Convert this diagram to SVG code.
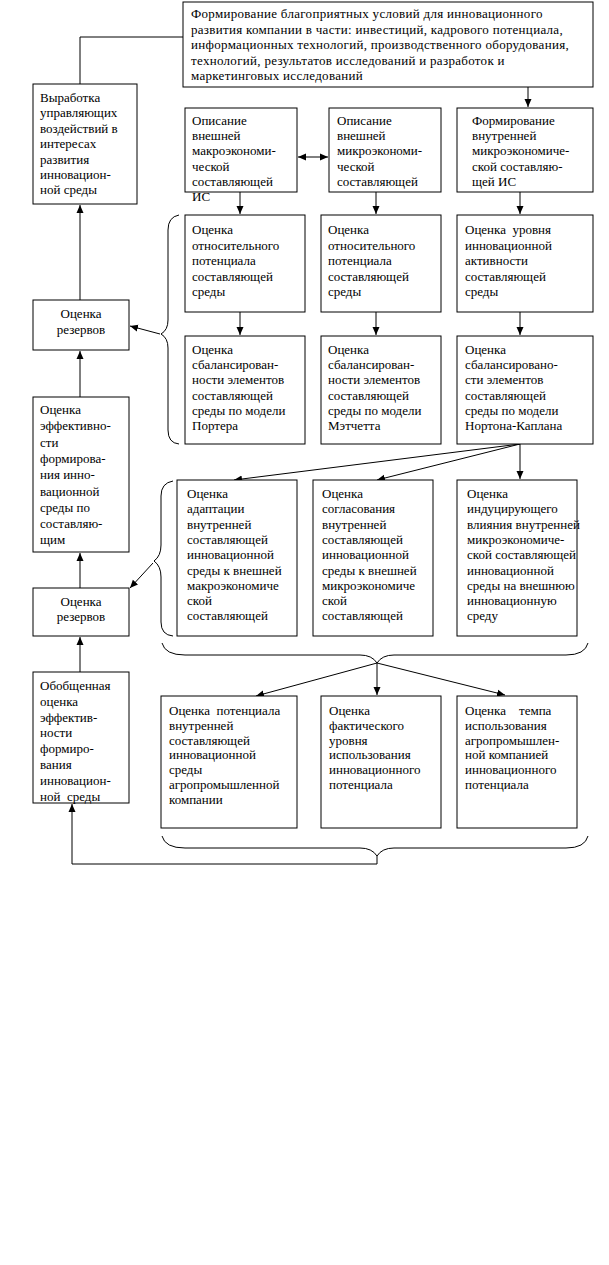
<svg xmlns="http://www.w3.org/2000/svg" width="609" height="1265" viewBox="0 0 609 1265">
<style>
rect.b{fill:#fff;stroke:#000;stroke-width:1}
text{font-family:"Liberation Serif","Times New Roman",serif;font-size:13px;fill:#000}
.c{text-anchor:middle}
.w{letter-spacing:0.3px}
.l{fill:none;stroke:#000;stroke-width:1}
</style>
<defs>
<marker id="ah" markerUnits="userSpaceOnUse" markerWidth="8" markerHeight="8" viewBox="0 0 8 8" refX="8" refY="4" orient="auto"><path d="M0,0.5 L8,4 L0,7.5 Z" fill="#000"/></marker>
<marker id="as" markerUnits="userSpaceOnUse" markerWidth="8" markerHeight="8" viewBox="0 0 8 8" refX="0" refY="4" orient="auto"><path d="M8,0.5 L0,4 L8,7.5 Z" fill="#000"/></marker>
</defs>
<rect width="609" height="1265" fill="#fff"/>

<g id="connectors">
<path class="l" d="M80,84 V37 H183"/>
<path class="l" d="M528,87 V107" marker-end="url(#ah)"/>
<path class="l" d="M298,157 H328" marker-start="url(#as)" marker-end="url(#ah)"/>
<path class="l" d="M240,192 V214" marker-end="url(#ah)"/>
<path class="l" d="M376,192 V214" marker-end="url(#ah)"/>
<path class="l" d="M520,192 V214" marker-end="url(#ah)"/>
<path class="l" d="M240,312 V335" marker-end="url(#ah)"/>
<path class="l" d="M376,312 V335" marker-end="url(#ah)"/>
<path class="l" d="M520,312 V335" marker-end="url(#ah)"/>
<path class="l" d="M520,444 L234,480" marker-end="url(#ah)"/>
<path class="l" d="M520,444 L377,480" marker-end="url(#ah)"/>
<path class="l" d="M520,444 V479" marker-end="url(#ah)"/>
<path class="l" d="M80,300 V205" marker-end="url(#ah)"/>
<path class="l" d="M80,397 V351" marker-end="url(#ah)"/>
<path class="l" d="M80,588 V553" marker-end="url(#ah)"/>
<path class="l" d="M80,672 V637" marker-end="url(#ah)"/>
<path class="l" d="M160,334 L130,326" marker-end="url(#ah)"/>
<path class="l" d="M153,563 L130,588" marker-end="url(#ah)"/>
<path class="l" d="M377,663 L256,696" marker-end="url(#ah)"/>
<path class="l" d="M377,663 V695" marker-end="url(#ah)"/>
<path class="l" d="M377,663 L505,695" marker-end="url(#ah)"/>
<path class="l" d="M377,856 V864 H72 V804" marker-end="url(#ah)"/>
<path class="l" d="M179,215 Q168,217 168,230 L168,320 Q168,330 161,334 Q168,338 168,348 L168,430 Q168,443 179,444"/>
<path class="l" d="M173,481 Q161,483 161,496 L161,545 Q161,556 154,561 Q161,566 161,577 L161,622 Q161,635 173,636"/>
<path class="l" d="M162,643 Q165,655 185,655 L360,655 Q372,655 377,663 Q382,655 394,655 L566,655 Q585,655 588,643"/>
<path class="l" d="M162,836 Q165,848 185,848 L360,848 Q372,848 377,856 Q382,848 394,848 L566,848 Q585,848 588,836"/>
</g>

<g id="top">
<rect class="b" x="183" y="2" width="410" height="85"/>
<text class="w" x="191" y="18">Формирование благоприятных условий для инновационного</text>
<text class="w" x="191" y="33.5">развития компании в части: инвестиций, кадрового потенциала,</text>
<text class="w" x="191" y="49">информационных технологий, производственного оборудования,</text>
<text class="w" x="191" y="64.5">технологий, результатов исследований и разработок и</text>
<text class="w" x="191" y="80">маркетинговых исследований</text>
</g>

<g id="vyrabotka">
<rect class="b" x="33" y="84" width="104" height="120"/>
<text x="40" y="102">Выработка</text>
<text x="40" y="117.4">управляющих</text>
<text x="40" y="132.8">воздействий в</text>
<text x="40" y="148.2">интересах</text>
<text x="40" y="163.6">развития</text>
<text x="40" y="179">инновацион-</text>
<text x="40" y="194.4">ной среды</text>
</g>

<g id="r1a">
<rect class="b" x="185" y="108" width="112" height="84"/>
<text x="192" y="125">Описание</text>
<text x="192" y="140.2">внешней</text>
<text x="192" y="155.4">макроэкономи-</text>
<text x="192" y="170.6">ческой</text>
<text x="192" y="185.8">составляющей</text>
<text x="192" y="201">ИС</text>
</g>
<g id="r1b">
<rect class="b" x="329" y="108" width="112" height="84"/>
<text x="337" y="125">Описание</text>
<text x="337" y="140.2">внешней</text>
<text x="337" y="155.4">микроэкономи-</text>
<text x="337" y="170.6">ческой</text>
<text x="337" y="185.8">составляющей</text>
</g>
<g id="r1c">
<rect class="b" x="457" y="108" width="136" height="84"/>
<text x="472" y="125">Формирование</text>
<text x="472" y="140.2">внутренней</text>
<text x="472" y="155.4">микроэкономиче-</text>
<text x="472" y="170.6">ской составляю-</text>
<text x="472" y="185.8">щей ИС</text>
</g>

<g id="r2a">
<rect class="b" x="185" y="215" width="120" height="97"/>
<text x="192" y="234">Оценка</text>
<text x="192" y="249.5">относительного</text>
<text x="192" y="265">потенциала</text>
<text x="192" y="280.5">составляющей</text>
<text x="192" y="296">среды</text>
</g>
<g id="r2b">
<rect class="b" x="321" y="215" width="120" height="97"/>
<text x="328" y="234">Оценка</text>
<text x="328" y="249.5">относительного</text>
<text x="328" y="265">потенциала</text>
<text x="328" y="280.5">составляющей</text>
<text x="328" y="296">среды</text>
</g>
<g id="r2c">
<rect class="b" x="457" y="215" width="136" height="97"/>
<text x="465" y="234" xml:space="preserve">Оценка  уровня</text>
<text x="465" y="249.5">инновационной</text>
<text x="465" y="265">активности</text>
<text x="465" y="280.5">составляющей</text>
<text x="465" y="296">среды</text>
</g>

<g id="rezervy1">
<rect class="b" x="33" y="300" width="96" height="50"/>
<text class="c" x="81" y="318">Оценка</text>
<text class="c" x="81" y="334">резервов</text>
</g>

<g id="r3a">
<rect class="b" x="185" y="336" width="120" height="108"/>
<text x="192" y="354">Оценка</text>
<text x="192" y="369.2">сбалансирован-</text>
<text x="192" y="384.4">ности элементов</text>
<text x="192" y="399.6">составляющей</text>
<text x="192" y="414.8">среды по модели</text>
<text x="192" y="430">Портера</text>
</g>
<g id="r3b">
<rect class="b" x="321" y="336" width="120" height="108"/>
<text x="328" y="354">Оценка</text>
<text x="328" y="369.2">сбалансирован-</text>
<text x="328" y="384.4">ности элементов</text>
<text x="328" y="399.6">составляющей</text>
<text x="328" y="414.8">среды по модели</text>
<text x="328" y="430">Мэтчетта</text>
</g>
<g id="r3c">
<rect class="b" x="457" y="336" width="136" height="108"/>
<text x="465" y="354">Оценка</text>
<text x="465" y="369.2">сбалансировано-</text>
<text x="465" y="384.4">сти элементов</text>
<text x="465" y="399.6">составляющей</text>
<text x="465" y="414.8">среды по модели</text>
<text x="465" y="430">Нортона-Каплана</text>
</g>

<g id="effekt">
<rect class="b" x="33" y="397" width="96" height="155"/>
<text x="40" y="414">Оценка</text>
<text x="40" y="430.3">эффективно-</text>
<text x="40" y="446.6">сти</text>
<text x="40" y="462.9">формирова-</text>
<text x="40" y="479.2">ния инно-</text>
<text x="40" y="495.5">вационной</text>
<text x="40" y="511.8">среды по</text>
<text x="40" y="528.1">составляю-</text>
<text x="40" y="544.4">щим</text>
</g>

<g id="r4a">
<rect class="b" x="177" y="480" width="120" height="156"/>
<text x="187" y="498">Оценка</text>
<text x="187" y="513.3">адаптации</text>
<text x="187" y="528.6">внутренней</text>
<text x="187" y="543.9">составляющей</text>
<text x="187" y="559.2">инновационной</text>
<text x="187" y="574.5">среды к внешней</text>
<text x="187" y="589.8">макроэкономиче</text>
<text x="187" y="605.1">ской</text>
<text x="187" y="620.4">составляющей</text>
</g>
<g id="r4b">
<rect class="b" x="313" y="480" width="120" height="156"/>
<text x="322" y="498">Оценка</text>
<text x="322" y="513.3">согласования</text>
<text x="322" y="528.6">внутренней</text>
<text x="322" y="543.9">составляющей</text>
<text x="322" y="559.2">инновационной</text>
<text x="322" y="574.5">среды к внешней</text>
<text x="322" y="589.8">микроэкономиче</text>
<text x="322" y="605.1">ской</text>
<text x="322" y="620.4">составляющей</text>
</g>
<g id="r4c">
<rect class="b" x="457" y="480" width="120" height="156"/>
<text x="467" y="498">Оценка</text>
<text x="467" y="513.3">индуцирующего</text>
<text x="467" y="528.6">влияния внутренней</text>
<text x="467" y="543.9">микроэкономиче-</text>
<text x="467" y="559.2">ской составляющей</text>
<text x="467" y="574.5">инновационной</text>
<text x="467" y="589.8">среды на внешнюю</text>
<text x="467" y="605.1">инновационную</text>
<text x="467" y="620.4">среду</text>
</g>

<g id="rezervy2">
<rect class="b" x="33" y="588" width="96" height="48"/>
<text class="c" x="81" y="606">Оценка</text>
<text class="c" x="81" y="621">резервов</text>
</g>

<g id="obobsh">
<rect class="b" x="33" y="672" width="96" height="131"/>
<text x="40" y="690">Обобщенная</text>
<text x="40" y="705.8">оценка</text>
<text x="40" y="721.6">эффектив-</text>
<text x="40" y="737.4">ности</text>
<text x="40" y="753.2">формиро-</text>
<text x="40" y="769">вания</text>
<text x="40" y="784.8">инновацион-</text>
<text x="40" y="800.6" xml:space="preserve">ной  среды</text>
</g>

<g id="r5a">
<rect class="b" x="161" y="696" width="136" height="132"/>
<text x="169" y="715" xml:space="preserve">Оценка  потенциала</text>
<text x="169" y="729.8">внутренней</text>
<text x="169" y="744.6">составляющей</text>
<text x="169" y="759.4">инновационной</text>
<text x="169" y="774.2">среды</text>
<text x="169" y="789">агропромышленной</text>
<text x="169" y="803.8">компании</text>
</g>
<g id="r5b">
<rect class="b" x="321" y="696" width="120" height="132"/>
<text x="329" y="715">Оценка</text>
<text x="329" y="729.8">фактического</text>
<text x="329" y="744.6">уровня</text>
<text x="329" y="759.4">использования</text>
<text x="329" y="774.2">инновационного</text>
<text x="329" y="789">потенциала</text>
</g>
<g id="r5c">
<rect class="b" x="457" y="696" width="120" height="132"/>
<text x="465" y="715" xml:space="preserve">Оценка    темпа</text>
<text x="465" y="729.8">использования</text>
<text x="465" y="744.6">агропромышлен-</text>
<text x="465" y="759.4">ной компанией</text>
<text x="465" y="774.2">инновационного</text>
<text x="465" y="789">потенциала</text>
</g>
</svg>
